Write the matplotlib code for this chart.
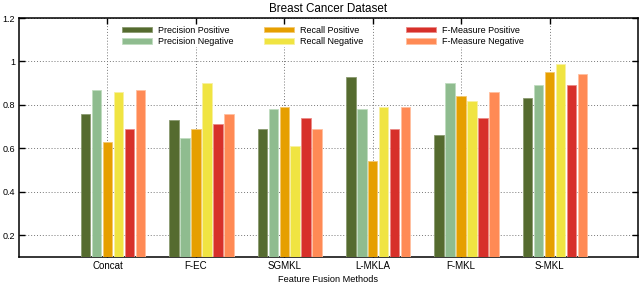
import numpy as np
import matplotlib
matplotlib.use('Agg')
import matplotlib.pyplot as plt
from matplotlib.legend import Legend

plt.rcParams['font.family'] = ['Liberation Sans', 'DejaVu Sans']

methods = ['Concat', 'F-EC', 'SGMKL', 'L-MKLA', 'F-MKL', 'S-MKL']
series = ['Precision Positive', 'Precision Negative', 'Recall Positive',
          'Recall Negative', 'F-Measure Positive', 'F-Measure Negative']

prec_pos = [0.76, 0.73, 0.69, 0.93, 0.66, 0.83]
prec_neg = [0.87, 0.65, 0.78, 0.78, 0.90, 0.89]
rec_pos = [0.63, 0.69, 0.79, 0.54, 0.84, 0.95]
rec_neg = [0.86, 0.90, 0.61, 0.79, 0.82, 0.99]
f_pos = [0.69, 0.71, 0.74, 0.69, 0.74, 0.89]
f_neg = [0.87, 0.76, 0.69, 0.79, 0.86, 0.94]

colors = ['#556b2f', '#8fbc8f', '#e69f00', '#f0e442', '#d7302a', '#ff8a55']
edges = ['#8a9a70', '#c0dcc0', '#f2c870', '#f8f0a0', '#ea8a86', '#ffc0a0']

fig = plt.figure(figsize=(6.4, 2.84), dpi=100)
ax = fig.add_axes([19/640, 27/284, 619/640, 239/284])

x = np.arange(1, len(methods) + 1)
pitch = 0.124
width = 0.108
data = [prec_pos, prec_neg, rec_pos, rec_neg, f_pos, f_neg]
bars = []
for i, (vals, name) in enumerate(zip(data, series)):
    b = ax.bar(x + (i - 2) * pitch, vals, width, color=colors[i], edgecolor=edges[i],
               linewidth=0.6, label=name, zorder=3)
    bars.append(b)

ax.set_xlim(0, 7)
ax.set_ylim(0.1, 1.2)
ax.set_xticks(x)
ax.set_xticklabels(methods)
ax.set_yticks([0.2, 0.4, 0.6, 0.8, 1.0, 1.2])
ax.set_yticklabels(['0.2', '0.4', '0.6', '0.8', '1', '1.2'])
ax.tick_params(direction='in', length=4, width=1, labelsize=6.5, top=True, right=True, pad=3)
ax.tick_params(axis='x', labelsize=7)
ax.grid(True, linestyle=(0, (1, 2)), color='#777777', linewidth=0.7, zorder=0)
ax.set_axisbelow(True)
for s in ax.spines.values():
    s.set_linewidth(1.1)

ax.set_title('Breast Cancer Dataset', fontsize=8.4, pad=4)
ax.set_xlabel('Feature Fusion Methods', fontsize=6.6, labelpad=2.5)

# gnuplot-style key: three columns of two entries each, opaque behind entries
col_px = [121, 263, 405]
for c, px in enumerate(col_px):
    leg = Legend(ax, bars[2*c:2*c+2], series[2*c:2*c+2], loc='upper left',
                 bbox_to_anchor=((px - 19) / 619, 0.972), frameon=True,
                 fancybox=False, framealpha=1, facecolor='white', edgecolor='none',
                 fontsize=6.5, handlelength=3.3, handleheight=0.6,
                 labelspacing=0.25, handletextpad=0.75, borderpad=0.1,
                 borderaxespad=0)
    ax.add_artist(leg)

fig.savefig('out.png', dpi=100)
